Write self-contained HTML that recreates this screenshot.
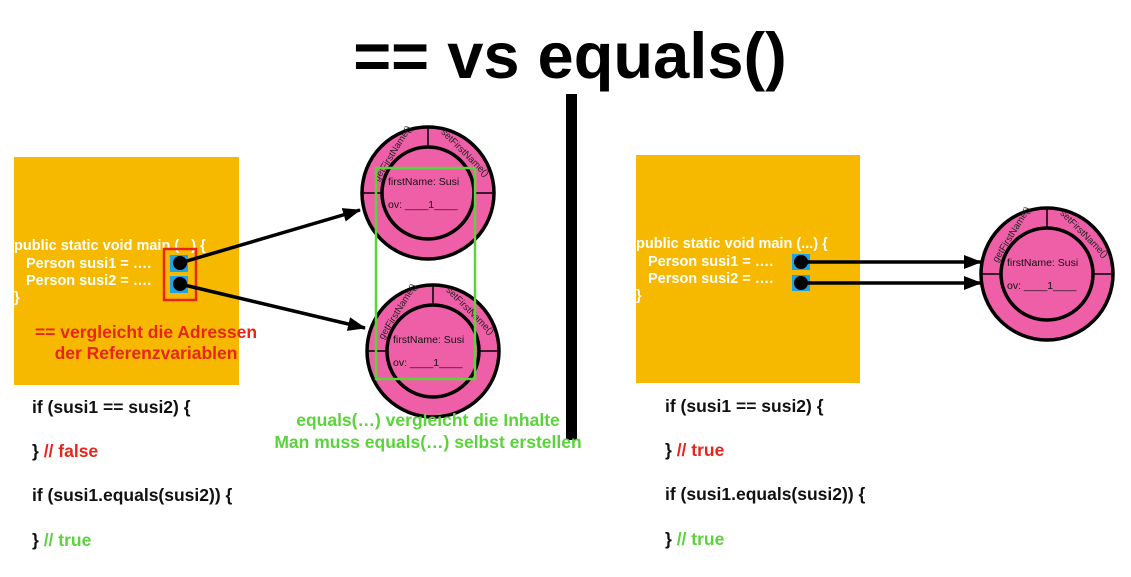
<!DOCTYPE html>
<html><head><meta charset="utf-8"><style>
html,body{margin:0;padding:0;background:#fff;}
svg{display:block;font-family:"Liberation Sans",Arial,sans-serif;}
</style></head><body>
<svg width="1131" height="577" viewBox="0 0 1131 577" xmlns="http://www.w3.org/2000/svg">
<defs>
<marker id="ah" markerWidth="18" markerHeight="14" refX="17" refY="7" orient="auto" markerUnits="userSpaceOnUse" viewBox="0 0 18 14">
<path d="M0,0 L18,7 L0,14 z" fill="#000"/></marker>
<g id="obj">
<circle cx="0" cy="0" r="66" fill="#EF5FA7" stroke="#000" stroke-width="3.5"/>
<circle cx="0" cy="0" r="46" fill="#EF5FA7" stroke="#000" stroke-width="3.5"/>
<line x1="0" y1="-66" x2="0" y2="-46" stroke="#000" stroke-width="1.5"/>
<line x1="-66" y1="0" x2="-46" y2="0" stroke="#000" stroke-width="1.5"/>
<line x1="46" y1="0" x2="66" y2="0" stroke="#000" stroke-width="1.5"/>
<text x="-33" y="-38" font-size="9.5" transform="rotate(-58 -33 -38)" fill="#222" text-anchor="middle">getFirstName()</text>
<text x="35" y="-38" font-size="9.5" transform="rotate(45 35 -38)" fill="#222" text-anchor="middle">setFirstName()</text>
<text x="-40" y="-8" font-size="10.5" fill="#111">firstName: Susi</text>
<text x="-40" y="15" font-size="10.5" fill="#111">ov: ____1____</text>
</g>
</defs>

<text x="570" y="78" font-size="65" font-weight="bold" text-anchor="middle" fill="#000">== vs equals()</text>
<rect x="566" y="94" width="11" height="346" fill="#000"/>

<!-- left -->
<rect x="14" y="157" width="225" height="228" fill="#F6B900"/>
<g font-size="14.5" font-weight="bold" fill="#fff">
<text x="14" y="250">public static void main (...) {</text>
<text x="26" y="268">Person susi1 = ….</text>
<text x="26" y="285">Person susi2 = ….</text>
<text x="14" y="302">}</text>
</g>
<rect x="170" y="255" width="18" height="17" fill="#1EA3E8"/>
<rect x="170" y="276" width="18" height="17" fill="#1EA3E8"/>
<rect x="164" y="249" width="32" height="51" fill="none" stroke="#E8251A" stroke-width="2.5"/>
<circle cx="180" cy="263" r="7" fill="#000"/>
<circle cx="180" cy="284" r="7" fill="#000"/>
<g font-size="17.5" font-weight="bold" fill="#E8251A" text-anchor="middle">
<text x="146" y="338">== vergleicht die Adressen</text>
<text x="146" y="359">der Referenzvariablen</text>
</g>
<use href="#obj" x="428" y="193"/>
<use href="#obj" x="433" y="351"/>
<rect x="376" y="168" width="99" height="211" fill="none" stroke="#5BD33B" stroke-width="2.5"/>
<line x1="180" y1="263" x2="360" y2="210" stroke="#000" stroke-width="3.5" marker-end="url(#ah)"/>
<line x1="180" y1="284" x2="365" y2="328" stroke="#000" stroke-width="3.5" marker-end="url(#ah)"/>
<g font-size="17.5" font-weight="bold" fill="#5BD33B" text-anchor="middle">
<text x="428" y="426">equals(…) vergleicht die Inhalte</text>
<text x="428" y="448">Man muss equals(…) selbst erstellen</text>
</g>
<g font-size="17.5" font-weight="bold" fill="#111">
<text x="32" y="413">if (susi1 == susi2) {</text>
<text x="32" y="457">} <tspan fill="#E8251A">// false</tspan></text>
<text x="32" y="501">if (susi1.equals(susi2)) {</text>
<text x="32" y="546">} <tspan fill="#5BD33B">// true</tspan></text>
</g>

<!-- right -->
<rect x="636" y="155" width="224" height="228" fill="#F6B900"/>
<g font-size="14.5" font-weight="bold" fill="#fff">
<text x="636" y="248">public static void main (...) {</text>
<text x="648" y="266">Person susi1 = ….</text>
<text x="648" y="283">Person susi2 = ….</text>
<text x="636" y="300">}</text>
</g>
<rect x="792" y="254" width="18" height="16" fill="#1EA3E8"/>
<rect x="792" y="275" width="18" height="16" fill="#1EA3E8"/>
<circle cx="801" cy="262" r="7" fill="#000"/>
<circle cx="801" cy="283" r="7" fill="#000"/>
<use href="#obj" x="1047" y="274"/>
<line x1="801" y1="262" x2="981" y2="262" stroke="#000" stroke-width="3.5" marker-end="url(#ah)"/>
<line x1="801" y1="283" x2="981" y2="283" stroke="#000" stroke-width="3.5" marker-end="url(#ah)"/>
<g font-size="17.5" font-weight="bold" fill="#111">
<text x="665" y="412">if (susi1 == susi2) {</text>
<text x="665" y="456">} <tspan fill="#E8251A">// true</tspan></text>
<text x="665" y="500">if (susi1.equals(susi2)) {</text>
<text x="665" y="545">} <tspan fill="#5BD33B">// true</tspan></text>
</g>
</svg>
</body></html>
